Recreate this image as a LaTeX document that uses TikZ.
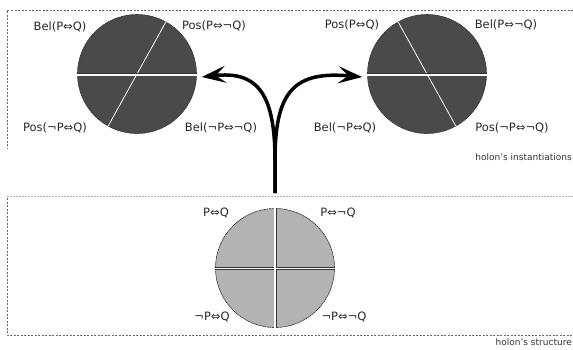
\documentclass[tikz,border=0pt]{standalone}
\usepackage{fontspec}
\setmainfont{DejaVu Sans}
\usetikzlibrary{arrows.meta}
\definecolor{darkfill}{HTML}{4A4A4A}
\definecolor{lightfill}{HTML}{B3B3B3}
\definecolor{framegray}{HTML}{666666}
\tikzset{
  frameline/.style={draw=framegray, line width=0.7pt, dash pattern=on 2pt off 1.5pt},
  lightframe/.style={draw=framegray!50, line width=0.7pt, dash pattern=on 1.5pt off 1.5pt},
  disc/.style={circle, minimum size=119pt, inner sep=0pt, draw=black!80, line width=0.6pt, dash pattern=on 2pt off 0.5pt},
  lbl/.style={font=\fontsize{11.5}{12}\selectfont, text=black!85, inner sep=0pt},
  captext/.style={font=\fontsize{9}{10}\selectfont, text=black!80, inner sep=0pt},
  bigarrow/.style={line width=3.5pt, -{Stealth[length=24pt,width=17pt,inset=10pt]}},
}
\begin{document}
\begin{tikzpicture}[x=1pt,y=-1pt]
\useasboundingbox (0,0) rectangle (573,349);
% frames
\coordinate (f1) at (7,10); \coordinate (f2) at (573,10); \coordinate (f3) at (7,148);
\draw[frameline] (f2) -- (f1) -- (f3);
\coordinate (g1) at (7,196); \coordinate (g2) at (573,196);
\draw[lightframe] (g1) -- (g2);
\coordinate (h1) at (7,198); \coordinate (h2) at (7,335); \coordinate (h3) at (573,335);
\draw[frameline] (h1) -- (h2) -- (h3);
% top-left circle
\node[disc, fill=darkfill] (L) at (137,74) {};
\draw[white, line width=0.8pt] (L.center) -- (L.61) (L.center) -- (L.241);
\draw[black!80, line width=3pt] (L.west) -- (L.east);
\draw[white, line width=2pt] ([yshift=-0.5]L.west) -- ([yshift=-0.5]L.east);
% top-right circle
\node[disc, fill=darkfill] (R) at (427,74) {};
\draw[white, line width=0.8pt] (R.center) -- (R.119) (R.center) -- (R.299);
\draw[black!80, line width=3pt] (R.west) -- (R.east);
\draw[white, line width=2pt] ([yshift=-0.5]R.west) -- ([yshift=-0.5]R.east);
% bottom circle
\node[disc, fill=lightfill] (B) at (275,268) {};
\draw[black!80, line width=3pt] (B.west) -- (B.east) (B.north) -- (B.south);
\draw[white, line width=1.2pt] ([yshift=-0.6]B.west) -- ([yshift=-0.6]B.east) (B.north) -- (B.south);
% labels
\node[lbl] (l1) at (60,27) {Bel(P⇔Q)};
\node[lbl] (l2) at (214,26) {Pos(P⇔¬Q)};
\node[lbl] (l3) at (55,128) {Pos(¬P⇔Q)};
\node[lbl] (l4) at (221,128) {Bel(¬P⇔¬Q)};
\node[lbl] (r1) at (352,25) {Pos(P⇔Q)};
\node[lbl] (r2) at (506,25) {Bel(P⇔¬Q)};
\node[lbl] (r3) at (345,128) {Bel(¬P⇔Q)};
\node[lbl] (r4) at (512,128) {Pos(¬P⇔¬Q)};
\node[lbl] (b1) at (216,213) {P⇔Q};
\node[lbl] (b2) at (338,213) {P⇔¬Q};
\node[lbl] (b3) at (212,317) {¬P⇔Q};
\node[lbl] (b4) at (344,317) {¬P⇔¬Q};
\node[captext, anchor=east] (c1) at (572,157) {holon's instantiations};
\node[captext, anchor=east] (c2) at (572,342) {holon's structure};
% arrows
\coordinate (stem) at (275,193);
\coordinate (fork) at (275,160);
\draw[bigarrow] (stem) -- (fork) .. controls (275,90) and (255,71) .. ([xshift=5pt,yshift=-3pt]L.east);
\draw[bigarrow] (stem) -- (fork) .. controls (275,90) and (295,71) .. ([xshift=-5pt,yshift=-3pt]R.west);
\end{tikzpicture}
\end{document}
